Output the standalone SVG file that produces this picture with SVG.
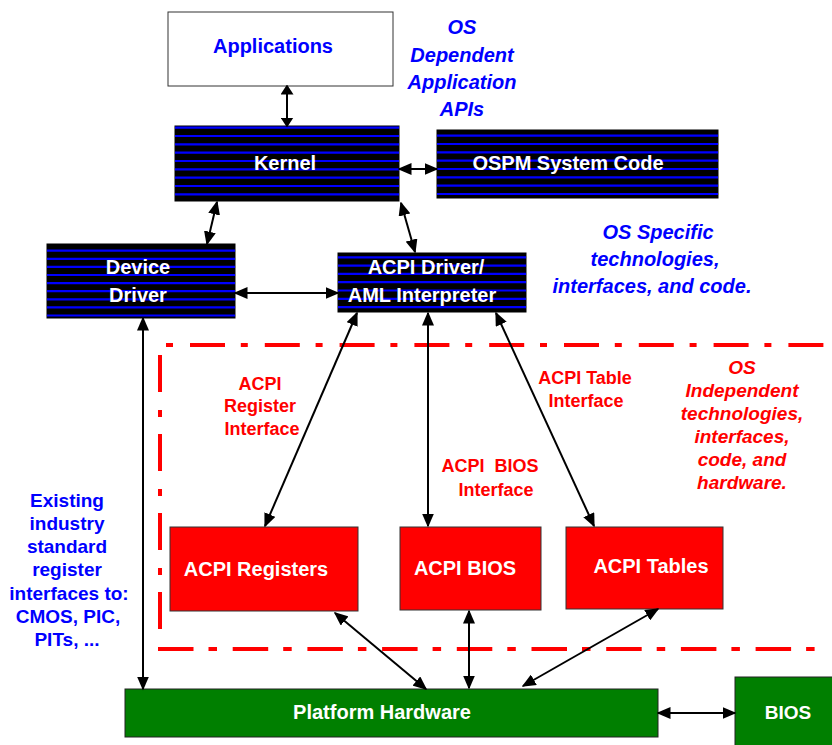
<svg xmlns="http://www.w3.org/2000/svg" width="832" height="745" viewBox="0 0 832 745">
<style>
  text { font-family: "Liberation Sans", Arial, sans-serif; font-weight: bold; text-anchor: middle; }
  .w { fill: #ffffff; font-size: 20px; }
  .b { fill: #0000ff; font-size: 20px; }
  .bi { fill: #0000ff; font-size: 20px; font-style: italic; }
  .bl { fill: #0000ff; font-size: 19px; }
  .r { fill: #ff0000; font-size: 18px; }
  .ri { fill: #ff0000; font-size: 19px; font-style: italic; }
  .dark { fill: #000000; stroke: #000; stroke-width: 1; }
  .stripes { stroke: #0000ff; stroke-width: 2.2; fill: none; }
  .red { fill: #ff0000; stroke: #333; stroke-width: 1; }
  .green { fill: #007f00; stroke: #222; stroke-width: 1; }
  .conn { stroke: #000; stroke-width: 2; fill: none; marker-start: url(#arr); marker-end: url(#arr); }
  .conns { stroke: #000; stroke-width: 2; fill: none; marker-start: url(#arrs); marker-end: url(#arrs); }
  .frame { stroke: #ff0000; stroke-width: 4; fill: none; }
</style>
<defs>
  <marker id="arr" viewBox="0 0 14 12" refX="12.5" refY="6" markerWidth="14" markerHeight="12" markerUnits="userSpaceOnUse" orient="auto-start-reverse">
    <path d="M0,0 L14,6 L0,12 z" fill="#000"/>
  </marker>
  <marker id="arrs" viewBox="0 0 10 13" refX="8.5" refY="6.5" markerWidth="10" markerHeight="13" markerUnits="userSpaceOnUse" orient="auto-start-reverse">
    <path d="M0,0 L10,6.5 L0,13 z" fill="#000"/>
  </marker>
</defs>

<rect x="0" y="0" width="832" height="745" fill="#ffffff"/>

<!-- OS independent frame -->
<g id="frame">
  <path class="frame" d="M166,345 H832" stroke-dasharray="7 17 35 15.8"/>
  <path class="frame" d="M160,355 V646" stroke-dasharray="37 18 7 17"/>
  <path class="frame" d="M158,649 H815" stroke-dasharray="35.5 15 8.5 15.7"/>
</g>

<g id="applications">
  <rect x="168" y="12" width="225" height="74" fill="#ffffff" stroke="#333" stroke-width="1"/>
  <text class="b" x="273" y="53">Applications</text>
</g>

<g id="kernel">
  <rect class="dark" x="175" y="126" width="224" height="75"/>
  <path class="stripes" d="M175,127.7H399M175,136H399M175,144.3H399M175,152.7H399M175,161H399M175,169.3H399M175,177.7H399M175,186H399M175,194.3H399"/>
  <text class="w" x="285" y="170">Kernel</text>
</g>

<g id="ospm">
  <rect class="dark" x="437" y="130" width="281" height="68"/>
  <path class="stripes" d="M437,135.7H718M437,144H718M437,152.3H718M437,160.7H718M437,169H718M437,177.3H718M437,185.7H718M437,194H718"/>
  <text class="w" x="568" y="170">OSPM System Code</text>
</g>

<g id="device-driver">
  <rect class="dark" x="47" y="244" width="188" height="74"/>
  <path class="stripes" d="M47,250.7H235M47,258.8H235M47,266.9H235M47,275H235M47,283.1H235M47,291.2H235M47,299.3H235M47,307.4H235M47,315.5H235"/>
  <text class="w" x="138" y="274">Device</text>
  <text class="w" x="138" y="302">Driver</text>
</g>

<g id="acpi-driver">
  <rect class="dark" x="338" y="253" width="188" height="59"/>
  <path class="stripes" d="M338,257.3H526M338,265.6H526M338,273.9H526M338,282.2H526M338,290.5H526M338,298.8H526M338,307.1H526"/>
  <text class="w" x="426" y="274">ACPI Driver/</text>
  <text class="w" x="422" y="302">AML Interpreter</text>
</g>

<g id="acpi-registers">
  <rect class="red" x="170" y="527" width="188" height="84"/>
  <text class="w" x="256" y="576">ACPI Registers</text>
</g>

<g id="acpi-bios">
  <rect class="red" x="400" y="527" width="141" height="83"/>
  <text class="w" x="465" y="575">ACPI BIOS</text>
</g>

<g id="acpi-tables">
  <rect class="red" x="566" y="527" width="157" height="82"/>
  <text class="w" x="651" y="573">ACPI Tables</text>
</g>

<g id="platform-hardware">
  <rect class="green" x="125" y="689" width="533" height="48"/>
  <text class="w" x="382" y="719">Platform Hardware</text>
</g>

<g id="bios">
  <rect class="green" x="735" y="677" width="100" height="72"/>
  <text class="w" x="788" y="719" style="font-size:19px">BIOS</text>
</g>

<g id="connectors">
  <line class="conns" x1="287" y1="86" x2="287" y2="126"/>
  <line class="conn" x1="399" y1="169" x2="437" y2="169"/>
  <line class="conn" x1="217" y1="202" x2="207" y2="244"/>
  <line class="conn" x1="401" y1="203" x2="415" y2="252"/>
  <line class="conn" x1="235" y1="293" x2="338" y2="293"/>
  <line class="conn" x1="357" y1="313" x2="265" y2="526"/>
  <line class="conn" x1="428" y1="313" x2="428" y2="526"/>
  <line class="conn" x1="496" y1="313" x2="594" y2="526"/>
  <line class="conn" x1="143" y1="318" x2="143" y2="689"/>
  <line class="conn" x1="335" y1="613" x2="426" y2="689"/>
  <line class="conn" x1="469" y1="611" x2="469" y2="688"/>
  <line class="conn" x1="658" y1="609" x2="523" y2="686"/>
  <line class="conn" x1="658" y1="713" x2="735" y2="713"/>
</g>

<g id="labels">
  <text class="bi" x="462" y="34">OS</text>
  <text class="bi" x="462" y="62">Dependent</text>
  <text class="bi" x="462" y="89">Application</text>
  <text class="bi" x="462" y="116">APIs</text>

  <text class="bi" x="658" y="239">OS Specific</text>
  <text class="bi" x="655" y="266">technologies,</text>
  <text class="bi" x="652" y="293">interfaces, and code.</text>

  <text class="ri" x="742" y="374">OS</text>
  <text class="ri" x="742" y="397">Independent</text>
  <text class="ri" x="742" y="420">technologies,</text>
  <text class="ri" x="742" y="443">interfaces,</text>
  <text class="ri" x="742" y="466">code, and</text>
  <text class="ri" x="742" y="489">hardware.</text>

  <text class="r" x="260" y="390">ACPI</text>
  <text class="r" x="260" y="412">Register</text>
  <text class="r" x="262" y="435">Interface</text>

  <text class="r" x="585" y="384">ACPI Table</text>
  <text class="r" x="586" y="407">Interface</text>

  <text class="r" x="490" y="472" xml:space="preserve">ACPI  BIOS</text>
  <text class="r" x="496" y="496">Interface</text>

  <text class="bl" x="67" y="507">Existing</text>
  <text class="bl" x="67" y="530">industry</text>
  <text class="bl" x="67" y="553">standard</text>
  <text class="bl" x="67" y="576">register</text>
  <text class="bl" x="69" y="600">interfaces to:</text>
  <text class="bl" x="68" y="623">CMOS, PIC,</text>
  <text class="bl" x="67" y="646">PITs, ...</text>
</g>
</svg>
